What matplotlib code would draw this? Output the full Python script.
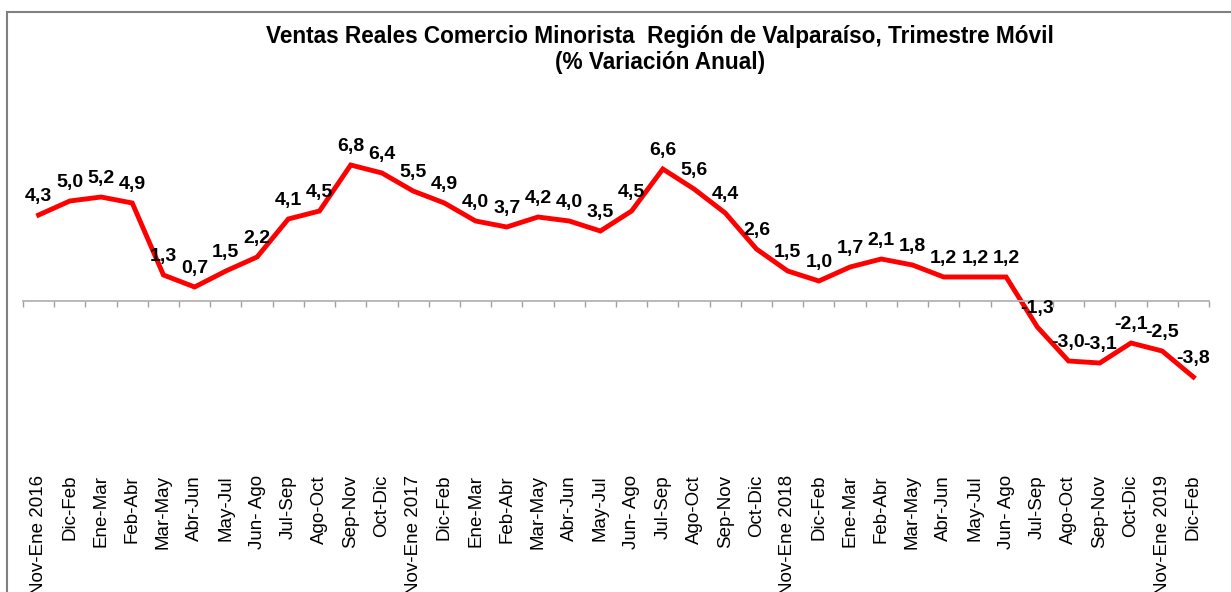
import matplotlib.pyplot as plt
import matplotlib.transforms as mtransforms
from matplotlib.patches import Rectangle
import numpy as np

plt.rcParams['font.family'] = ['Liberation Sans', 'DejaVu Sans']

# Trimestre móvil labels (Nov-Ene 2016 .. Dic-Feb 2020)
periods = ['Nov-Ene 2016', 'Dic-Feb', 'Ene-Mar', 'Feb-Abr', 'Mar-May', 'Abr-Jun',
           'May-Jul', 'Jun- Ago', 'Jul-Sep', 'Ago-Oct', 'Sep-Nov', 'Oct-Dic',
           'Nov-Ene 2017', 'Dic-Feb', 'Ene-Mar', 'Feb-Abr', 'Mar-May', 'Abr-Jun',
           'May-Jul', 'Jun- Ago', 'Jul-Sep', 'Ago-Oct', 'Sep-Nov', 'Oct-Dic',
           'Nov-Ene 2018', 'Dic-Feb', 'Ene-Mar', 'Feb-Abr', 'Mar-May', 'Abr-Jun',
           'May-Jul', 'Jun- Ago', 'Jul-Sep', 'Ago-Oct', 'Sep-Nov', 'Oct-Dic',
           'Nov-Ene 2019', 'Dic-Feb']

# % variación anual
variation = [4.3, 5.0, 5.2, 4.9, 1.3, 0.7, 1.5, 2.2, 4.1, 4.5, 6.8, 6.4,
             5.5, 4.9, 4.0, 3.7, 4.2, 4.0, 3.5, 4.5, 6.6, 5.6, 4.4, 2.6,
             1.5, 1.0, 1.7, 2.1, 1.8, 1.2, 1.2, 1.2, -1.3, -3.0, -3.1, -2.1,
             -2.5, -3.8]

W, H = 1231, 592
fig = plt.figure(figsize=(W / 100, H / 100), dpi=100)
ax = fig.add_axes([23 / W, 1 - 461 / H, (1209 - 23) / W, 320 / H])

x = np.arange(len(variation))
ax.plot(x, variation, color='#ff0000', lw=3.5, solid_joinstyle='miter')

# data labels above each point
for xi, v in zip(x, variation):
    ax.annotate(f'{v:.1f}'.replace('.', ','), (xi, v), xytext=(0, 13),
                textcoords='offset points', ha='center', va='center',
                fontsize=14, fontweight='bold', color='black')

ax.set_xlim(-0.5, len(variation) - 0.5)
ax.set_ylim(-8, 8)

# category axis crossing at zero, ticks between categories
for side in ['top', 'right', 'left']:
    ax.spines[side].set_visible(False)
ax.spines['bottom'].set_position(('data', 0))
ax.spines['bottom'].set_color('#b3b3b3')
ax.spines['bottom'].set_linewidth(1.3)
ax.set_xticks(np.arange(-0.5, len(variation), 1.0))
ax.set_xticklabels([])
ax.tick_params(axis='x', direction='out', length=4, width=1, color='#a0a0a0')
ax.set_yticks([])

# category labels placed low (bottom of chart)
trans = mtransforms.blended_transform_factory(ax.transData, fig.transFigure)
for xi, lab in zip(x, periods):
    ax.text(xi, 1 - 475 / H, lab, transform=trans, rotation=90, ha='center',
            va='top', fontsize=13.5, clip_on=False)

fig.text(660 / W, 1 - 37 / H, 'Ventas Reales Comercio Minorista  Región de Valparaíso, Trimestre Móvil',
         ha='center', va='center', fontsize=16.3, fontweight='bold')
fig.text(660 / W, 1 - 63 / H, '(% Variación Anual)',
         ha='center', va='center', fontsize=16.3, fontweight='bold')

# chart frame (runs off the right and bottom edges)
fig.add_artist(Rectangle((7 / W, -0.2), 1.2, 1.2 - 12 / H, transform=fig.transFigure,
                         fill=False, edgecolor='#808080', lw=1.5))

plt.savefig('out.png', dpi=100)
